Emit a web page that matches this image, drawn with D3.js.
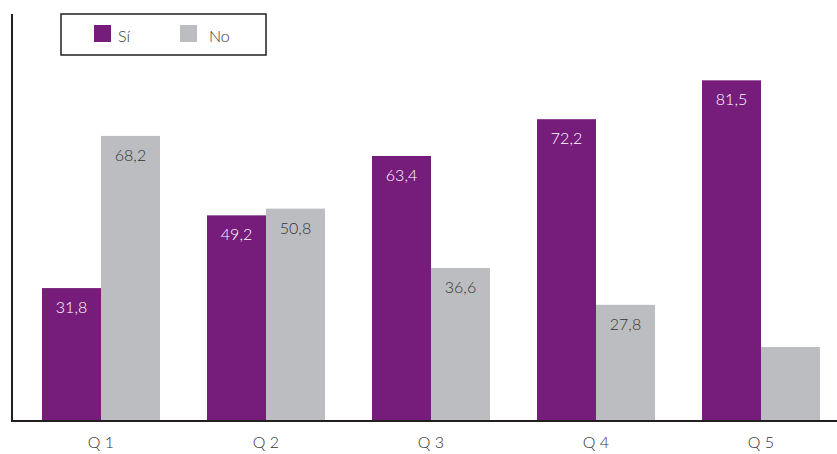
<!DOCTYPE html>
<html>
<head>
<meta charset="utf-8">
<script src="https://cdn.jsdelivr.net/npm/d3@7"></script>
<style>
  body { margin: 0; background: #fff; }
  svg { display: block; font-family: Lato, "Open Sans", sans-serif; font-weight: 300; }
</style>
</head>
<body>
<svg id="chart" width="837" height="454"></svg>
<script>
// data
const categories = ["Q 1", "Q 2", "Q 3", "Q 4", "Q 5"];
const series = ["Sí", "No"];
const si = [31.8, 49.2, 63.4, 72.2, 81.5];
const no = [68.2, 50.8, 36.6, 27.8, 17.7];
const noLabels = ["68,2", "50,8", "36,6", "27,8", null]; // last one not printed
const siLabels = ["31,8", "49,2", "63,4", "72,2", "81,5"];

const colors = { "Sí": "#761c7a", "No": "#bcbdc0" };

const svg = d3.select("#chart");
const W = 837, H = 454;
const base = 421;

// scales
const x = d3.scaleBand()
  .domain(categories)
  .range([18.5, 843.5])
  .paddingInner(0.285)
  .paddingOuter(0.1425);

const xs = d3.scaleBand()
  .domain(series)
  .range([0, x.bandwidth()]);

const y = d3.scaleLinear()
  .domain([0, 100])
  .range([base, base - 418]);

// table for bars
const rows = [];
categories.forEach(function(c, i){
  rows.push({ cat: c, key: "Sí", v: si[i], label: siLabels[i] });
  rows.push({ cat: c, key: "No", v: no[i], label: noLabels[i] });
}); // forEach

const g = svg.append("g");

g.selectAll("rect.bar")
  .data(rows)
  .join("rect")
    .attr("class", "bar")
    .attr("x", d => x(d.cat) + xs(d.key))
    .attr("y", d => y(d.v))
    .attr("width", xs.bandwidth())
    .attr("height", d => y(0) - y(d.v) + 1)
    .attr("fill", d => colors[d.key]);

g.selectAll("text.val")
  .data(rows.filter(d => d.label))
  .join("text")
    .attr("class", "val")
    .attr("x", d => x(d.cat) + xs(d.key) + xs.bandwidth() / 2)
    .attr("y", d => y(d.v) + 25)
    .attr("text-anchor", "middle")
    .attr("font-size", 16)
    .attr("fill", d => d.key == "Sí" ? "#ffffff" : "#333333")
    .text(d => d.label);

// axes
svg.append("line")
  .attr("x1", 12).attr("x2", 12)
  .attr("y1", 14).attr("y2", base + 1)
  .attr("stroke", "#231f20").attr("stroke-width", 2);

const xAxis = svg.append("g")
  .attr("transform", `translate(0,${base})`)
  .call(d3.axisBottom(x).tickSize(0).tickPadding(16));
xAxis.select(".domain")
  .attr("d", `M11,0H${W}`)
  .attr("stroke", "#231f20").attr("stroke-width", 2);
xAxis.selectAll("text")
  .attr("font-size", 16)
  .attr("font-family", "Lato, 'Open Sans', sans-serif")
  .attr("font-weight", 300)
  .attr("fill", "#333333");

// legend
const leg = svg.append("g");
leg.append("rect")
  .attr("x", 61).attr("y", 14)
  .attr("width", 205).attr("height", 41)
  .attr("fill", "#fff")
  .attr("stroke", "#231f20").attr("stroke-width", 1.5);

const legX = [94, 180];
series.forEach(function(s, i){
  leg.append("rect")
    .attr("x", legX[i]).attr("y", 25)
    .attr("width", 17).attr("height", 17)
    .attr("fill", colors[s]);
  leg.append("text")
    .attr("x", legX[i] + 24 + (i == 1 ? 5 : 0))
    .attr("y", 42)
    .attr("font-size", 16)
    .attr("fill", "#333333")
    .text(s);
}); // forEach
</script>
</body>
</html>
